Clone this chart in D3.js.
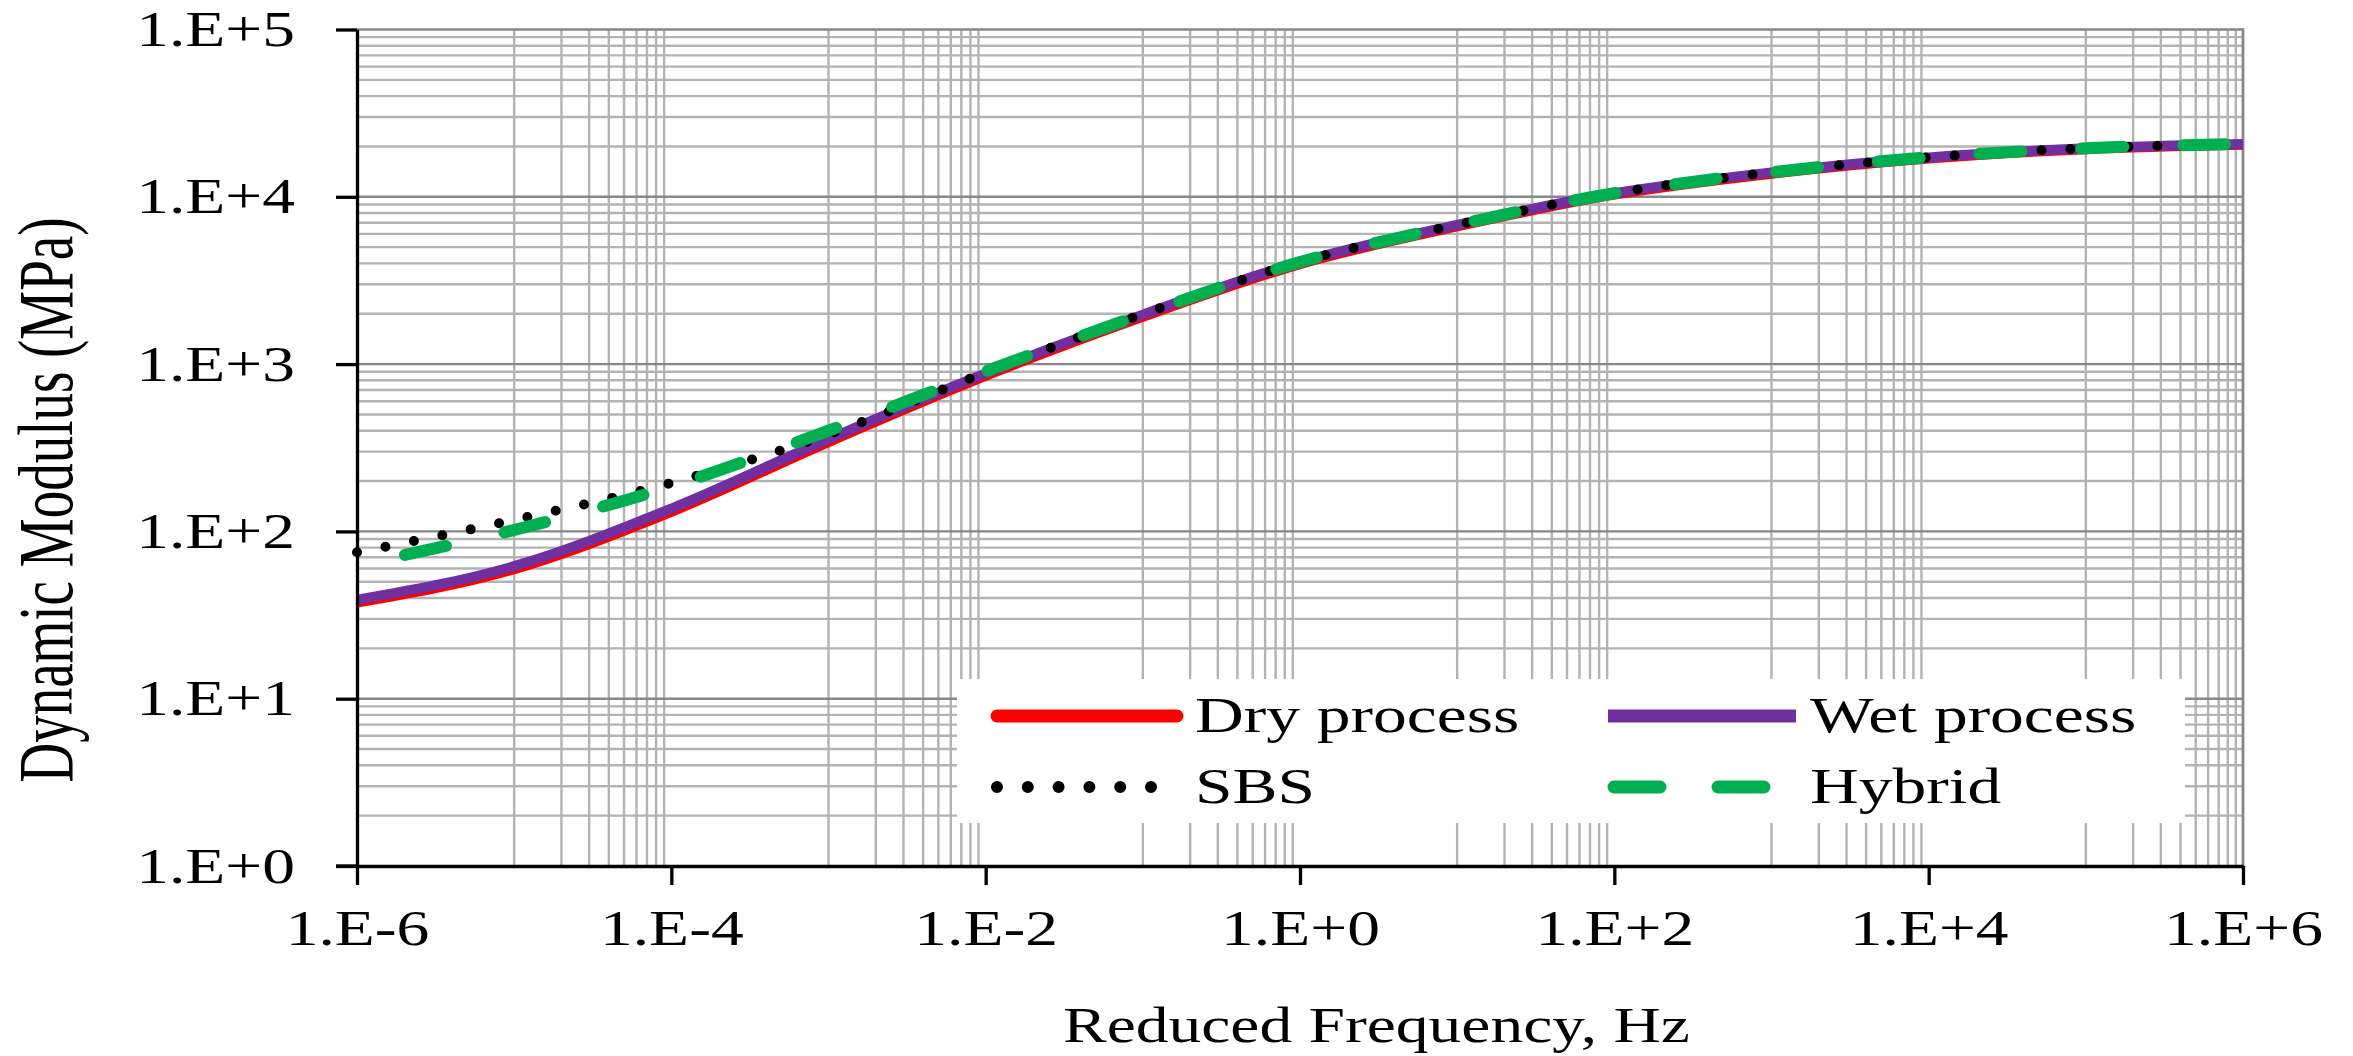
<!DOCTYPE html>
<html>
<head>
<meta charset="utf-8">
<script src="https://cdn.jsdelivr.net/npm/d3@7"></script>
<style>
body { margin: 0; background: #fff; }
svg text { font-family: "Liberation Serif", "Times New Roman", serif; fill: #000; }
</style>
</head>
<body>
<svg id="chart" width="2353" height="1056"></svg>
<script>
// reduced frequency (Hz) and dynamic modulus (MPa)
var freqs = [1e-6, 1e-5, 1e-4, 1e-3, 1e-2, 1e-1, 1e0, 1e1, 1e2, 1e3, 1e4, 1e5, 1e6];
var dry_values = [37.5, 59.5, 131, 342, 850, 1915, 3960, 6650, 10300, 13750, 16950, 19250, 20450];
var wet_values = [39, 62, 137, 356, 880, 1975, 4070, 6800, 10500, 14000, 17200, 19500, 20700];
var sbs_values = [75, 117, 195, 380, 890, 1990, 4070, 6800, 10500, 14000, 17200, 19500, 20700];
var hybrid_values = [63, 102, 186, 400, 905, 1985, 4070, 6800, 10500, 14000, 17200, 19500, 20700];
var series_names = ["Dry process", "Wet process", "SBS", "Hybrid"];

var x_tick_values = [1e-6, 1e-4, 1e-2, 1e0, 1e2, 1e4, 1e6];
var x_tick_labels = ["1.E-6", "1.E-4", "1.E-2", "1.E+0", "1.E+2", "1.E+4", "1.E+6"];
var y_tick_values = [1, 10, 100, 1000, 1e4, 1e5];
var y_tick_labels = ["1.E+0", "1.E+1", "1.E+2", "1.E+3", "1.E+4", "1.E+5"];
var x_grid_exponents = [-5, -3, -1, 1, 3, 5];
var y_grid_exponents = [0, 1, 2, 3, 4];
var grid_multipliers = [1, 2, 3, 4, 5, 6, 7, 8, 9];

var svg = d3.select("#chart");
var plot_left = 357, plot_right = 2243, plot_top = 29.5, plot_bottom = 866;

var x = d3.scaleLog().domain([1e-6, 1e6]).range([plot_left, plot_right]);
var y = d3.scaleLog().domain([1, 1e5]).range([plot_bottom, plot_top]);

// stretch text wide like the source picture
function stretch(sel, k) {
    sel.each(function() {
        var w = this.getComputedTextLength();
        d3.select(this)
            .attr("textLength", w * k)
            .attr("lengthAdjust", "spacingAndGlyphs");
    });
}

// grid
var grid = svg.append("g").attr("class", "grid");
var y_grid = [];
y_grid_exponents.forEach(function(e) {
    grid_multipliers.forEach(function(k) {
        if (!(e == 0 && k == 1)) y_grid.push({v: k * Math.pow(10, e), major: k == 1});
    });
});
y_grid.push({v: 1e5, major: true});
var x_grid = [];
x_grid_exponents.forEach(function(e) {
    grid_multipliers.forEach(function(k) {
        x_grid.push(k * Math.pow(10, e));
    });
});

grid.selectAll(".vgrid")
    .data(x_grid)
    .enter()
    .append("line")
    .attr("class", "vgrid")
    .attr("x1", function(d) { return x(d); })
    .attr("x2", function(d) { return x(d); })
    .attr("y1", plot_top)
    .attr("y2", plot_bottom)
    .style("stroke", "#b3b3b3")
    .style("stroke-width", 2.4);

grid.selectAll(".hgrid")
    .data(y_grid.filter(function(d) { return !d.major; }).concat(y_grid.filter(function(d) { return d.major; })))
    .enter()
    .append("line")
    .attr("class", "hgrid")
    .attr("x1", plot_left)
    .attr("x2", plot_right)
    .attr("y1", function(d) { return y(d.v); })
    .attr("y2", function(d) { return y(d.v); })
    .style("stroke", function(d) { return d.major ? "#878787" : "#b3b3b3"; })
    .style("stroke-width", 2.4);

grid.append("line")
    .attr("x1", x(1e6)).attr("x2", x(1e6))
    .attr("y1", plot_top - 1.2).attr("y2", plot_bottom)
    .style("stroke", "#878787")
    .style("stroke-width", 2.8);

// series
var line = d3.line()
    .x(function(d) { return x(d[0]); })
    .y(function(d) { return y(d[1]); })
    .curve(d3.curveMonotoneX);

var series = [
    {name: series_names[0], values: dry_values, color: "#ff0000", width: 10, dash: null, offset: 0, cap: "butt"},
    {name: series_names[1], values: wet_values, color: "#7030a0", width: 10, dash: null, offset: 0, cap: "butt"},
    {name: series_names[2], values: sbs_values, color: "#000000", width: 10, dash: "0 29", offset: 0, cap: "round"},
    {name: series_names[3], values: hybrid_values, color: "#00b050", width: 12, dash: "42 60", offset: 53, cap: "round"}
];

svg.append("g").attr("class", "series")
    .selectAll("path")
    .data(series)
    .enter()
    .append("path")
    .attr("d", function(s) { return line(freqs.map(function(f, i) { return [f, s.values[i]]; })); })
    .style("fill", "none")
    .style("stroke", function(s) { return s.color; })
    .style("stroke-width", function(s) { return s.width; })
    .style("stroke-dasharray", function(s) { return s.dash; })
    .style("stroke-dashoffset", function(s) { return s.offset; })
    .style("stroke-linecap", function(s) { return s.cap; });

// axes
var y_axis = d3.axisLeft(y)
    .tickValues(y_tick_values)
    .tickFormat(function(d, i) { return y_tick_labels[i]; })
    .tickSize(21)
    .tickSizeOuter(0)
    .tickPadding(41);
var x_axis = d3.axisBottom(x)
    .tickValues(x_tick_values)
    .tickFormat(function(d, i) { return x_tick_labels[i]; })
    .tickSize(19)
    .tickSizeOuter(0)
    .tickPadding(24);

var gy = svg.append("g").attr("transform", "translate(" + plot_left + ",0)").call(y_axis);
var gx = svg.append("g").attr("transform", "translate(0," + plot_bottom + ")").call(x_axis);

[gx, gy].forEach(function(g) {
    g.attr("font-family", null).attr("font-size", null);
    g.select(".domain").style("stroke", "#000").style("stroke-width", 3.3);
    g.selectAll(".tick line").style("stroke", "#000").style("stroke-width", 3.3);
    g.selectAll(".tick text").style("font-size", "50px");
    stretch(g.selectAll(".tick text"), 1.31);
});
gx.append("line")
    .attr("x1", plot_left - 21).attr("x2", plot_left)
    .attr("y1", 0).attr("y2", 0)
    .style("stroke", "#000").style("stroke-width", 3.3);

// axis titles
var xt = svg.append("text")
    .attr("x", 1063)
    .attr("y", 1042)
    .style("font-size", "50px")
    .text("Reduced Frequency, Hz");
stretch(xt, 1.31);

svg.append("text")
    .attr("transform", "translate(72,500) scale(1.42,1) rotate(-90)")
    .attr("text-anchor", "middle")
    .style("font-size", "55px")
    .text("Dynamic Modulus (MPa)");

// legend
var legend = svg.append("g").attr("class", "legend");
legend.append("rect")
    .attr("x", 957).attr("y", 679)
    .attr("width", 1228).attr("height", 144)
    .style("fill", "#fff");

var legend_pos = [
    {x1: 997, x2: 1177, ty: 716, tx: 1195},
    {x1: 1608, x2: 1796, ty: 716, tx: 1810},
    {x1: 997, x2: 1157, ty: 787, tx: 1195},
    {x1: 1614, x2: 1770, ty: 787, tx: 1810}
];
var legend_style = [
    {width: 13, dash: null, cap: "round"},
    {width: 13, dash: null, cap: "butt"},
    {width: 12, dash: "0 30.8", cap: "round"},
    {width: 13, dash: "46 58", cap: "round"}
];

var items = legend.selectAll(".item")
    .data(series)
    .enter()
    .append("g")
    .attr("class", "item");

items.append("line")
    .attr("x1", function(d, i) { return legend_pos[i].x1; })
    .attr("x2", function(d, i) { return legend_pos[i].x2; })
    .attr("y1", function(d, i) { return legend_pos[i].ty; })
    .attr("y2", function(d, i) { return legend_pos[i].ty; })
    .style("stroke", function(d) { return d.color; })
    .style("stroke-width", function(d, i) { return legend_style[i].width; })
    .style("stroke-dasharray", function(d, i) { return legend_style[i].dash; })
    .style("stroke-linecap", function(d, i) { return legend_style[i].cap; });

var lt = items.append("text")
    .attr("x", function(d, i) { return legend_pos[i].tx; })
    .attr("y", function(d, i) { return legend_pos[i].ty + 16; })
    .style("font-size", "50px")
    .text(function(d) { return d.name; });
stretch(lt, 1.35);
</script>
</body>
</html>
